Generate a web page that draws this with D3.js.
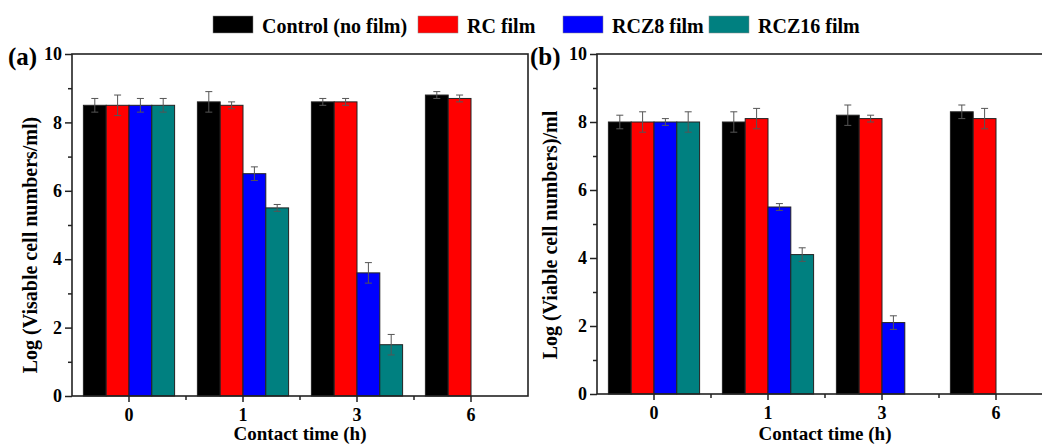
<!DOCTYPE html>
<html>
<head>
<meta charset="utf-8">
<script src="https://cdn.jsdelivr.net/npm/d3@7"></script>
<style>
  body { margin: 0; background: #fff; }
  svg { display: block; font-family: "Liberation Serif", "Times New Roman", serif; font-weight: bold; }
</style>
</head>
<body>
<svg id="chart" width="1042" height="444"></svg>
<script>
// contact time categories and film series
var times = ["0", "1", "3", "6"];
var series = ["Control (no film)", "RC film", "RCZ8 film", "RCZ16 film"];

// panel (a): values per series, indexed by time
var valuesA = [
  [8.5, 8.6, 8.6, 8.8],
  [8.5, 8.5, 8.6, 8.7],
  [8.5, 6.5, 3.6, null],
  [8.5, 5.5, 1.5, null]
];
var errorsA = [
  [0.2, 0.3, 0.1, 0.1],
  [0.3, 0.1, 0.1, 0.1],
  [0.2, 0.2, 0.3, null],
  [0.2, 0.1, 0.3, null]
];

// panel (b)
var valuesB = [
  [8.0, 8.0, 8.2, 8.3],
  [8.0, 8.1, 8.1, 8.1],
  [8.0, 5.5, 2.1, null],
  [8.0, 4.1, null, null]
];
var errorsB = [
  [0.2, 0.3, 0.3, 0.2],
  [0.3, 0.3, 0.1, 0.3],
  [0.1, 0.1, 0.2, null],
  [0.3, 0.2, null, null]
];

var yMajor = [0, 2, 4, 6, 8, 10];
var yMinor = [1, 3, 5, 7, 9];

var colors = ["#000000", "#ff0000", "#0000ff", "#008080"];
var svg = d3.select("#chart");

function panel(opts) {
  var x = d3.scaleBand().domain(times).range([opts.left, opts.right])
    .paddingInner(0.2).paddingOuter(0.1);
  var xs = d3.scaleBand().domain(d3.range(series.length)).range([0, x.bandwidth()]);
  var y = d3.scaleLinear().domain([0, 10]).range([opts.bottom, opts.top]);

  var g = svg.append("g");

  // bars
  series.forEach(function(s, si) {
    var rows = times.map(function(t, ti) {
      return { t: t, v: opts.values[si][ti], e: opts.errors[si][ti] };
    }).filter(function(d) { return d.v != null; });

    g.selectAll(null).data(rows).enter().append("rect")
      .attr("x", function(d) { return x(d.t) + xs(si); })
      .attr("y", function(d) { return y(d.v); })
      .attr("width", xs.bandwidth())
      .attr("height", function(d) { return y(0) - y(d.v); })
      .attr("fill", colors[si])
      .attr("stroke", "#222")
      .attr("stroke-width", 1);

    // error bars
    var eb = g.selectAll(null).data(rows).enter().append("g")
      .attr("stroke", "#555").attr("stroke-width", 1);
    var cx = function(d) { return x(d.t) + xs(si) + xs.bandwidth() / 2; };
    eb.append("line")
      .attr("x1", cx).attr("x2", cx)
      .attr("y1", function(d) { return y(d.v - d.e); })
      .attr("y2", function(d) { return y(d.v + d.e); });
    eb.append("line")
      .attr("x1", function(d) { return cx(d) - 3.5; }).attr("x2", function(d) { return cx(d) + 3.5; })
      .attr("y1", function(d) { return y(d.v + d.e); })
      .attr("y2", function(d) { return y(d.v + d.e); });
    eb.append("line")
      .attr("x1", function(d) { return cx(d) - 3.5; }).attr("x2", function(d) { return cx(d) + 3.5; })
      .attr("y1", function(d) { return y(d.v - d.e); })
      .attr("y2", function(d) { return y(d.v - d.e); });
  });

  // frame
  g.append("rect")
    .attr("x", opts.left).attr("y", opts.top)
    .attr("width", opts.right - opts.left).attr("height", opts.bottom - opts.top)
    .attr("fill", "none").attr("stroke", "#222").attr("stroke-width", 1.6);

  // y axis
  var ya = g.append("g").attr("transform", "translate(" + opts.left + ",0)")
    .call(d3.axisLeft(y).tickValues(yMajor).tickSize(7).tickPadding(3).tickFormat(d3.format("d")))
    .attr("font-family", null).attr("font-size", null);
  ya.select(".domain").remove();
  ya.selectAll("line").attr("stroke", "#222").attr("stroke-width", 1.5);
  ya.selectAll("text").attr("font-size", 18).attr("fill", "#000");
  var ym = g.append("g").attr("transform", "translate(" + opts.left + ",0)")
    .call(d3.axisLeft(y).tickValues(yMinor).tickSize(4).tickFormat(""));
  ym.select(".domain").remove();
  ym.selectAll("line").attr("stroke", "#222").attr("stroke-width", 1.5);

  // x axis
  var xa = g.append("g").attr("transform", "translate(0," + opts.bottom + ")")
    .call(d3.axisBottom(x).tickSize(6).tickPadding(6))
    .attr("font-family", null).attr("font-size", null);
  xa.select(".domain").remove();
  xa.selectAll("line").attr("stroke", "#222").attr("stroke-width", 1.5);
  xa.selectAll("text").attr("font-size", 18).attr("fill", "#000");
  var minor = d3.range(times.length - 1).map(function(i) {
    return (x(times[i]) + x(times[i + 1]) + x.bandwidth()) / 2;
  });
  g.selectAll(null).data(minor).enter().append("line")
    .attr("x1", function(d) { return d; }).attr("x2", function(d) { return d; })
    .attr("y1", opts.bottom).attr("y2", opts.bottom + 4)
    .attr("stroke", "#222").attr("stroke-width", 1.5);

  // titles
  g.append("text")
    .attr("x", (opts.left + opts.right) / 2).attr("y", 440)
    .attr("text-anchor", "middle").attr("font-size", 19)
    .text("Contact time (h)");
  g.append("text")
    .attr("transform", "translate(" + opts.ylabelX + "," + opts.ylabelY + ") rotate(-90)")
    .attr("text-anchor", "middle").attr("font-size", 20)
    .text(opts.ylabel);
  g.append("text")
    .attr("x", opts.tagX).attr("y", 65)
    .attr("font-size", 25)
    .text(opts.tag);
}

panel({
  left: 72, right: 528, top: 54, bottom: 396,
  values: valuesA, errors: errorsA,
  ylabel: "Log (Visable cell numbers/ml)", ylabelX: 37, ylabelY: 245,
  tag: "(a)", tagX: 8
});
panel({
  left: 597, right: 1053, top: 54, bottom: 394,
  values: valuesB, errors: errorsB,
  ylabel: "Log (Viable cell numbers)/ml", ylabelX: 557, ylabelY: 235,
  tag: "(b)", tagX: 530
});

// legend
var legendX = [213, 418, 563, 709];
var leg = svg.append("g");
series.forEach(function(s, i) {
  leg.append("rect")
    .attr("x", legendX[i]).attr("y", 16).attr("width", 40).attr("height", 17)
    .attr("fill", colors[i]).attr("stroke", "#888").attr("stroke-width", 0.5);
  leg.append("text")
    .attr("x", legendX[i] + 49).attr("y", 33)
    .attr("font-size", 20)
    .text(s);
});
</script>
</body>
</html>
